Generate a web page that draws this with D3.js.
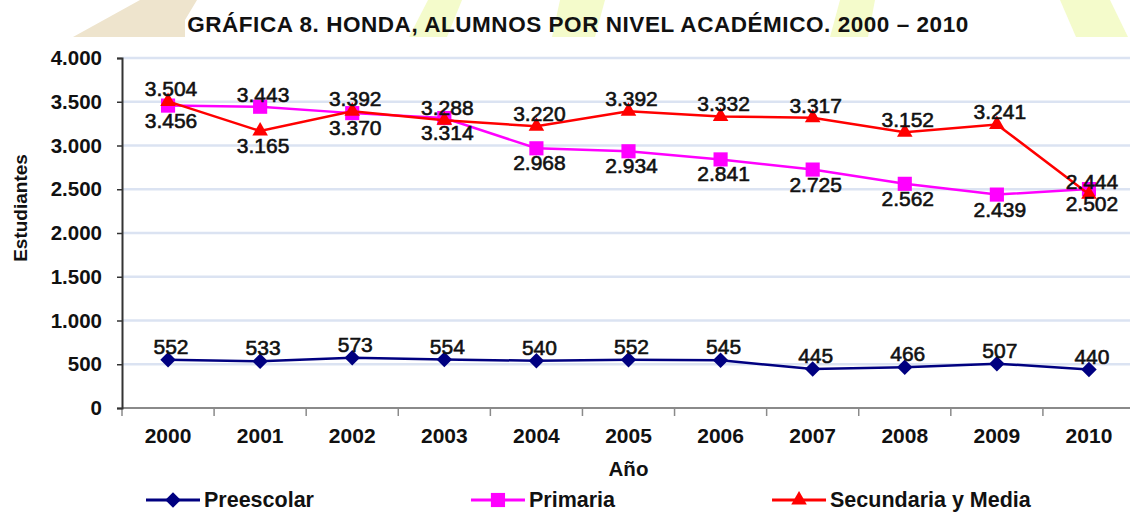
<!DOCTYPE html>
<html>
<head>
<meta charset="utf-8">
<script src="https://cdn.jsdelivr.net/npm/d3@7"></script>
<style>
  body { margin: 0; background: #fff; }
  svg { display: block; }
  text { font-family: "Liberation Sans", Arial, sans-serif; fill: #111; }
</style>
</head>
<body>
<svg id="chart" width="1130" height="512"></svg>
<script>
const years = ["2000", "2001", "2002", "2003", "2004", "2005", "2006", "2007", "2008", "2009", "2010"];
const preescolar = [552, 533, 573, 554, 540, 552, 545, 445, 466, 507, 440];
const primaria = [3456, 3443, 3370, 3314, 2968, 2934, 2841, 2725, 2562, 2439, 2502];
const secundaria = [3504, 3165, 3392, 3288, 3220, 3392, 3332, 3317, 3152, 3241, 2444];
const yTicks = [0, 500, 1000, 1500, 2000, 2500, 3000, 3500, 4000];
const seriesNames = ["Preescolar", "Primaria", "Secundaria y Media"];
const chartTitle = "GRÁFICA 8. HONDA, ALUMNOS POR NIVEL ACADÉMICO. 2000 – 2010";
const yTitle = "Estudiantes";
const xTitle = "Año";

const svg = d3.select("#chart");
const width = +svg.attr("width");

const x = d3.scaleBand().domain(years).range([122, 1135]);
const y = d3.scaleLinear().domain([0, 4000]).range([408, 58]);
const fmt = d3.formatLocale({decimal: ",", thousands: ".", grouping: [3], currency: ["", ""]}).format(",");

// faint logo watermark behind the title
svg.append("clipPath").attr("id", "top-clip")
  .append("rect").attr("x", 0).attr("y", 0).attr("width", width).attr("height", 37);
const wm = svg.append("g").attr("clip-path", "url(#top-clip)");
wm.append("polygon").attr("points", "73,37 140,0 197,0 185,20 185,37").attr("fill", "#eee4cd");
[[428, 462, 447, 409], [560, 605, 595, 552], [840, 875, 868, 830], [1060, 1110, 1128, 1076]].forEach(p => {
  wm.append("polygon")
    .attr("points", `${p[0]},0 ${p[1]},0 ${p[2]},37 ${p[3]},37`)
    .attr("fill", "#f4fbcb");
});

// title
svg.append("text")
  .attr("x", 578).attr("y", 32)
  .attr("text-anchor", "middle")
  .style("font-size", "22.5px").style("font-weight", "bold")
  .style("letter-spacing", "0.55px")
  .text(chartTitle);

// gridlines
svg.append("g").selectAll("line")
  .data(yTicks.filter(d => d > 0))
  .join("line")
  .attr("x1", 122).attr("x2", width)
  .attr("y1", d => y(d)).attr("y2", d => y(d))
  .attr("stroke", "#dbe3f2").attr("stroke-width", 2.5);

// x axis: line, ticks at category boundaries, labels centred
const xAxis = svg.append("g");
xAxis.append("line")
  .attr("x1", 122).attr("x2", width)
  .attr("y1", y(0)).attr("y2", y(0))
  .attr("stroke", "#8a8a8a").attr("stroke-width", 2);
xAxis.selectAll(".tick")
  .data(years)
  .join("line")
  .attr("class", "tick")
  .attr("x1", d => x(d)).attr("x2", d => x(d))
  .attr("y1", y(0)).attr("y2", y(0) + 8)
  .attr("stroke", "#8a8a8a").attr("stroke-width", 1.5);
svg.append("g")
  .attr("transform", `translate(0,${y(0)})`)
  .call(d3.axisBottom(x).tickSize(0).tickPadding(20))
  .call(g => g.select(".domain").remove())
  .call(g => g.selectAll("text")
    .style("font-size", "21px").style("font-weight", "bold")
    .style("font-family", "'Liberation Sans', Arial, sans-serif").attr("fill", "#111"));

// y axis
svg.append("g")
  .attr("transform", "translate(122,0)")
  .call(d3.axisLeft(y).tickValues(yTicks).tickSize(5).tickPadding(15).tickFormat(fmt))
  .call(g => g.select(".domain").attr("stroke", "#333").attr("stroke-width", 2))
  .call(g => g.selectAll(".tick line").attr("stroke", "#333").attr("stroke-width", 1.5))
  .call(g => g.selectAll("text")
    .style("font-size", "20.5px").style("font-weight", "bold")
    .style("font-family", "'Liberation Sans', Arial, sans-serif").attr("fill", "#111"));

// axis titles
svg.append("text")
  .attr("transform", "translate(27,208) rotate(-90)")
  .attr("text-anchor", "middle")
  .style("font-size", "19px").style("font-weight", "bold")
  .text(yTitle);
svg.append("text")
  .attr("x", (x.range()[0] + x.range()[1]) / 2).attr("y", 476)
  .attr("text-anchor", "middle")
  .style("font-size", "20.5px").style("font-weight", "bold")
  .text(xTitle);

// series
const series = [
  {name: seriesNames[0], values: preescolar, color: "#000080", symbol: d3.symbol(d3.symbolSquare, 120)(), rotate: 45},
  {name: seriesNames[1], values: primaria, color: "#ff00ff", symbol: d3.symbol(d3.symbolSquare, 200)(), rotate: 0},
  {name: seriesNames[2], values: secundaria, color: "#ff0000", symbol: d3.symbol(d3.symbolTriangle, 105)(), rotate: 0}
];

const line = d3.line()
  .x((d, i) => x(years[i]) + x.bandwidth() / 2)
  .y(d => y(d));

series.forEach(s => {
  const g = svg.append("g");
  g.append("path")
    .attr("d", line(s.values))
    .attr("fill", "none")
    .attr("stroke", s.color)
    .attr("stroke-width", 2.5);
  g.selectAll("path.marker")
    .data(s.values)
    .join("path")
    .attr("class", "marker")
    .attr("d", s.symbol)
    .attr("transform", (d, i) => `translate(${x(years[i]) + x.bandwidth() / 2},${y(d)}) rotate(${s.rotate})`)
    .attr("fill", s.color);
});

// data labels: Secundaria above / Primaria below, swapped where Secundaria dips well under Primaria
function above(k, i) {
  if (k === 0) return true;
  const swap = secundaria[i] < primaria[i] - 100;
  return k === 2 ? !swap : swap;
}
const labels = svg.append("g");
series.forEach((s, k) => {
  labels.selectAll(null)
    .data(s.values)
    .join("text")
    .attr("x", (d, i) => x(years[i]) + x.bandwidth() / 2 + 3)
    .attr("y", (d, i) => above(k, i) ? y(d) - (k === 0 ? 6 : 5) : y(d) + 22)
    .attr("text-anchor", "middle")
    .style("font-size", "21px")
    .style("stroke", "#111").style("stroke-width", 0.6)
    .text(d => fmt(d));
});

// legend
const legend = svg.append("g").attr("transform", "translate(146,500)");
let lx = 0;
series.forEach(s => {
  const item = legend.append("g").attr("transform", `translate(${lx},0)`);
  item.append("line").attr("x1", 0).attr("x2", 54).attr("stroke", s.color).attr("stroke-width", 3);
  item.append("path").attr("d", s.symbol).attr("fill", s.color)
    .attr("transform", `translate(27,0) rotate(${s.rotate})`);
  const t = item.append("text")
    .attr("x", 58).attr("y", 7)
    .style("font-size", "21.5px").style("font-weight", "bold")
    .text(s.name);
  lx += 58 + t.node().getComputedTextLength() + 157;
});
</script>
</body>
</html>
